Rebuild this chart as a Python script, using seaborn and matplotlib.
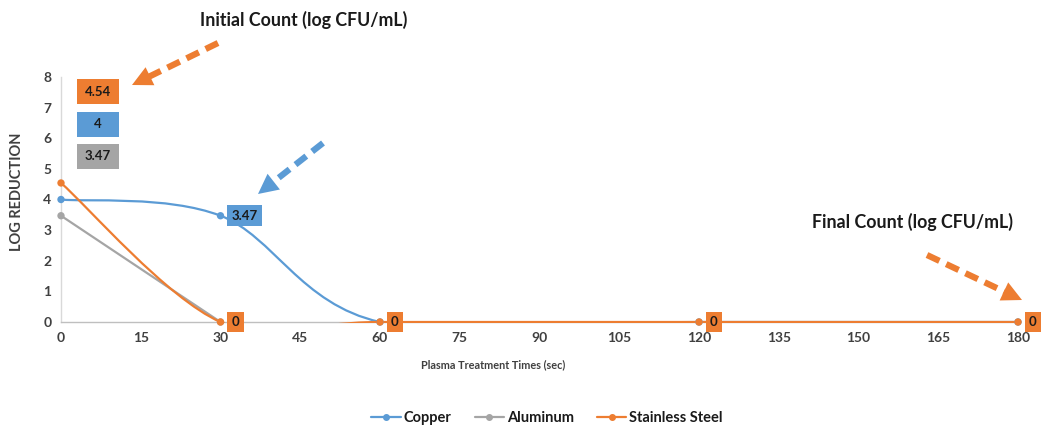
import numpy as np
import pandas as pd
import matplotlib
matplotlib.use("Agg")
import matplotlib.pyplot as plt
from matplotlib.path import Path
from matplotlib.patches import PathPatch, Rectangle, Polygon
from matplotlib.lines import Line2D
import seaborn as sns

# ---- data -------------------------------------------------------------
series_names = ["Copper", "Aluminum", "Stainless Steel"]
copper_time = [0, 30, 60, 120, 180]
copper_log = [4, 3.47, 0, 0, 0]
aluminum_time = [0, 30]
aluminum_log = [3.47, 0]
steel_time = [0, 30, 60, 120, 180]
steel_log = [4.54, 0, 0, 0, 0]
x_ticks = list(range(0, 181, 15))
y_ticks = list(range(0, 9))

colors = {"Copper": "#5B9BD5", "Aluminum": "#A5A5A5", "Stainless Steel": "#ED7D31"}

W, H = 1041, 430
sns.set_theme(style="white")
plt.rcParams["font.family"] = ["Lato", "DejaVu Sans"]

fig = plt.figure(figsize=(W / 100, H / 100), dpi=100)
ax = fig.add_axes([61 / W, 1 - 322 / H, (1018 - 61) / W, (322 - 77) / H])


def fpx(x, y):
    """Figure fraction from pixel position measured from the top-left."""
    return (x / W, 1 - y / H)


def smooth_path(xs, ys):
    """Cubic Bezier path through the points (Catmull-Rom style tangents)."""
    pts = np.column_stack([xs, ys]).astype(float)
    n = len(pts)
    verts = [pts[0]]
    codes = [Path.MOVETO]
    for i in range(n - 1):
        p_prev = pts[i - 1] if i > 0 else pts[i]
        p_next2 = pts[i + 2] if i + 2 < n else pts[i + 1]
        c1 = pts[i] + (pts[i + 1] - p_prev) / 6
        c2 = pts[i + 1] - (p_next2 - pts[i]) / 6
        verts += [c1, c2, pts[i + 1]]
        codes += [Path.CURVE4] * 3
    return Path(verts, codes)


frames = []
for name, t, v in [("Copper", copper_time, copper_log),
                   ("Aluminum", aluminum_time, aluminum_log),
                   ("Stainless Steel", steel_time, steel_log)]:
    frames.append(pd.DataFrame({"time": t, "log": v, "metal": name}))
df = pd.concat(frames, ignore_index=True)

# plot-area clip (a hair below zero so the flat lines stay whole)
clip_rect = Rectangle((-5, -0.035), 200, 9, transform=ax.transData)

for name in series_names:
    sub = df[df.metal == name]
    patch = PathPatch(smooth_path(sub.time.values, sub.log.values), fill=False,
                      edgecolor=colors[name], lw=1.6, zorder=3)
    ax.add_patch(patch)
    patch.set_clip_path(clip_rect)

sns.scatterplot(data=df, x="time", y="log", hue="metal", palette=colors,
                hue_order=series_names, s=28, edgecolor="none", legend=False,
                ax=ax, zorder=4, clip_on=False)

ax.set_xlim(0, 180)
ax.set_ylim(0, 8)
ax.set_xticks(x_ticks)
ax.set_yticks(y_ticks)
ax.tick_params(axis="both", length=0, labelsize=10, labelcolor="#404040", pad=7)
for lab in ax.get_xticklabels() + ax.get_yticklabels():
    lab.set_fontweight("bold")
for s in ["top", "right"]:
    ax.spines[s].set_visible(False)
ax.spines["left"].set_color("#D9D9D9")
ax.spines["bottom"].set_color("#BFBFBF")
ax.spines["left"].set_linewidth(1)
ax.spines["bottom"].set_linewidth(1)
ax.set_xlabel("")
ax.set_ylabel("")

fig.text(*fpx(17, 192), "LOG REDUCTION", rotation=90, ha="center", va="center",
         fontsize=10.5, fontweight="bold", color="#404040")
fig.text(*fpx(493, 365), "Plasma Treatment Times (sec)", ha="center", va="center",
         fontsize=7.8, fontweight="bold", color="#404040")

# data labels next to points
def point_label(x, y, text, color, dx=11):
    ax.annotate(text, xy=(x, y), xytext=(dx, 0), textcoords="offset pixels",
                ha="left", va="center", fontsize=9.5, fontweight="bold",
                color="#1a1a1a", annotation_clip=False, zorder=6,
                bbox=dict(boxstyle="square,pad=0.33", fc=color, ec="none"))

point_label(copper_time[1], copper_log[1], f"{copper_log[1]:g}", colors["Copper"])
for t, v in zip(steel_time[1:], steel_log[1:]):
    point_label(t, v, f"{v:g}", colors["Stainless Steel"])

# initial-count boxes
init_boxes = [("Stainless Steel", steel_log[0], 79),
              ("Copper", copper_log[0], 112),
              ("Aluminum", aluminum_log[0], 144)]
for name, val, top in init_boxes:
    x0, y0 = fpx(77, top + 25)
    fig.add_artist(Rectangle((x0, y0), 42 / W, 25 / H, transform=fig.transFigure,
                             fc=colors[name], ec="none"))
    fig.text(*fpx(98, top + 12.5), f"{val:g}", ha="center", va="center",
             fontsize=9.5, fontweight="bold", color="#1a1a1a")

fig.text(*fpx(304, 20), "Initial Count (log CFU/mL)", ha="center", va="center",
         fontsize=12.8, fontweight="bold", color="#1a1a1a")
fig.text(*fpx(912, 222), "Final Count (log CFU/mL)", ha="center", va="center",
         fontsize=12.8, fontweight="bold", color="#1a1a1a")


def dashed_arrow(tail, tip, color, head_len=20, head_w=20):
    tail = np.array(tail, float)
    tip = np.array(tip, float)
    u = (tip - tail) / np.linalg.norm(tip - tail)
    nrm = np.array([-u[1], u[0]])
    base = tip - u * head_len
    end = tip - u * head_len * 0.9
    (xa, ya), (xb, yb) = fpx(*tail), fpx(*end)
    fig.add_artist(Line2D([xa, xb], [ya, yb], transform=fig.transFigure,
                          color=color, lw=4.5, linestyle=(0, (2.2, 1.2)),
                          solid_capstyle="butt", dash_capstyle="butt"))
    tri = [fpx(*tip), fpx(*(base + nrm * head_w / 2)), fpx(*(base - nrm * head_w / 2))]
    fig.add_artist(Polygon(tri, closed=True, transform=fig.transFigure,
                           fc=color, ec="none"))

dashed_arrow((218, 43), (132, 85), colors["Stainless Steel"])
dashed_arrow((323, 143), (258, 194), colors["Copper"])
dashed_arrow((927, 255), (1022, 300), colors["Stainless Steel"])

handles = [Line2D([], [], color=colors[n], lw=1.6, marker="o", markersize=4)
           for n in series_names]
leg = fig.legend(handles, series_names, loc="center", bbox_to_anchor=fpx(547, 418),
                 ncol=3, frameon=False, handlelength=2.0, columnspacing=1.6,
                 handletextpad=0.2, prop=dict(size=10.5, weight="bold"))
for txt in leg.get_texts():
    txt.set_color("#1a1a1a")

fig.savefig("out.png", dpi=100)
